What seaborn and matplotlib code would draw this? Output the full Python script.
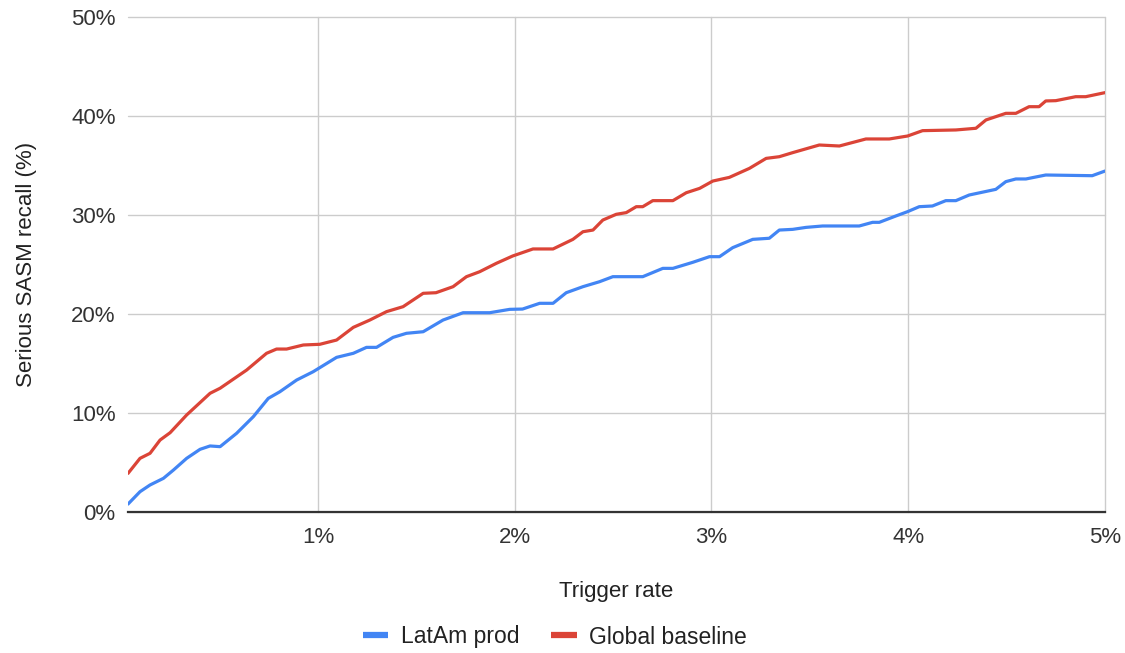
import numpy as np
import pandas as pd
import seaborn as sns
import matplotlib.pyplot as plt
from matplotlib.ticker import FuncFormatter

# values (trigger rate %, recall %)
latam_x = [0.035, 0.096, 0.147, 0.215, 0.266, 0.333, 0.401, 0.452, 0.503, 0.587,
           0.672, 0.748, 0.807, 0.892, 0.976, 1.095, 1.18, 1.247, 1.298, 1.382,
           1.45, 1.535, 1.636, 1.738, 1.873, 1.975, 2.04, 2.127, 2.195, 2.262,
           2.347, 2.431, 2.499, 2.651, 2.753, 2.804, 2.905, 2.99, 3.041, 3.108,
           3.21, 3.294, 3.345, 3.413, 3.481, 3.565, 3.751, 3.819, 3.853, 3.937,
           3.997, 4.056, 4.123, 4.191, 4.242, 4.31, 4.445, 4.496, 4.547, 4.598,
           4.699, 4.935, 5.0]
latam_y = [0.8, 2.05, 2.73, 3.4, 4.24, 5.42, 6.33, 6.67, 6.6, 7.95,
           9.63, 11.48, 12.15, 13.33, 14.17, 15.62, 16.03, 16.63, 16.63, 17.64,
           18.05, 18.21, 19.39, 20.13, 20.13, 20.47, 20.5, 21.08, 21.08, 22.15,
           22.76, 23.26, 23.77, 23.77, 24.61, 24.61, 25.22, 25.79, 25.79, 26.7,
           27.54, 27.65, 28.48, 28.55, 28.75, 28.89, 28.89, 29.26, 29.26, 29.9,
           30.34, 30.84, 30.91, 31.45, 31.45, 32.02, 32.59, 33.37, 33.64, 33.64,
           34.04, 33.97, 34.44]

global_x = [0.035, 0.096, 0.147, 0.198, 0.249, 0.333, 0.452, 0.503, 0.638, 0.739,
            0.79, 0.841, 0.926, 1.01, 1.095, 1.18, 1.264, 1.349, 1.433, 1.535,
            1.60, 1.687, 1.755, 1.822, 1.907, 1.99, 2.093, 2.195, 2.296, 2.347,
            2.398, 2.448, 2.516, 2.567, 2.618, 2.651, 2.702, 2.804, 2.872, 2.94,
            3.007, 3.091, 3.193, 3.278, 3.345, 3.413, 3.548, 3.65, 3.785, 3.904,
            3.997, 4.073, 4.242, 4.344, 4.395, 4.496, 4.547, 4.614, 4.665, 4.699,
            4.75, 4.851, 4.902, 5.0]
global_y = [3.9, 5.42, 5.93, 7.27, 8.01, 9.8, 11.99, 12.5, 14.34, 16.03,
            16.46, 16.46, 16.87, 16.94, 17.37, 18.65, 19.39, 20.24, 20.74, 22.09,
            22.15, 22.76, 23.77, 24.27, 25.12, 25.86, 26.57, 26.57, 27.54, 28.31,
            28.48, 29.49, 30.07, 30.24, 30.84, 30.84, 31.45, 31.45, 32.25, 32.69,
            33.43, 33.8, 34.71, 35.72, 35.89, 36.3, 37.07, 36.97, 37.68, 37.68,
            37.98, 38.52, 38.59, 38.76, 39.6, 40.27, 40.27, 40.94, 40.94, 41.52,
            41.55, 41.95, 41.95, 42.36]

series_names = ["LatAm prod", "Global baseline"]
x_ticks = [1, 2, 3, 4, 5]
y_ticks = [0, 10, 20, 30, 40, 50]

df = pd.concat([
    pd.DataFrame({"rate": latam_x, "recall": latam_y, "series": series_names[0]}),
    pd.DataFrame({"rate": global_x, "recall": global_y, "series": series_names[1]}),
])

sns.set_theme(style="whitegrid")
plt.rcParams["font.family"] = ["Liberation Sans", "DejaVu Sans"]

fig = plt.figure(figsize=(11.25, 6.53), dpi=100)
ax = fig.add_axes([128 / 1125, 1 - 512 / 653, 977 / 1125, 495 / 653])

palette = {"LatAm prod": "#4285F4", "Global baseline": "#DB4437"}
sns.lineplot(data=df, x="rate", y="recall", hue="series", palette=palette,
             estimator=None, sort=False, linewidth=2.3, ax=ax)

ax.set_xlim(0.035, 5)
ax.set_ylim(0, 50)
ax.set_xticks(x_ticks)
ax.set_yticks(y_ticks)
ax.xaxis.set_major_formatter(FuncFormatter(lambda v, p: f"{v:.0f}%"))
ax.yaxis.set_major_formatter(FuncFormatter(lambda v, p: f"{v:.0f}%"))
ax.tick_params(axis="both", length=0, labelsize=16, labelcolor="#333333")
ax.tick_params(axis="x", pad=11)
ax.tick_params(axis="y", pad=9)

ax.grid(True, color="#cccccc", linewidth=1)
for gl in ax.get_xgridlines() + ax.get_ygridlines():
    gl.set_clip_on(False)
for side in ["top", "right", "left"]:
    ax.spines[side].set_visible(False)
ax.spines["bottom"].set_color("#333333")
ax.spines["bottom"].set_linewidth(1.6)
ax.set_axisbelow(True)

ax.set_xlabel("Trigger rate", fontsize=16, color="#222222", va="center")
ax.xaxis.set_label_coords(0.5, (512 - 592) / 495)
ax.set_ylabel("Serious SASM recall (%)", fontsize=16, color="#222222", va="center")
ax.yaxis.set_label_coords((27 - 128) / 977, 0.5)

handles, labels = ax.get_legend_handles_labels()
ax.get_legend().remove()
leg = fig.legend(handles, labels, loc="center", bbox_to_anchor=(555 / 1125, 1 - 637 / 653),
                 ncol=2, frameon=False, fontsize=16.5, handlelength=1.1,
                 handletextpad=0.55, columnspacing=1.4)
for h in leg.legend_handles:
    h.set_linewidth(4.5)
    h.set_solid_capstyle("butt")
for t in leg.get_texts():
    t.set_color("#222222")

fig.savefig("out.png", dpi=100)
